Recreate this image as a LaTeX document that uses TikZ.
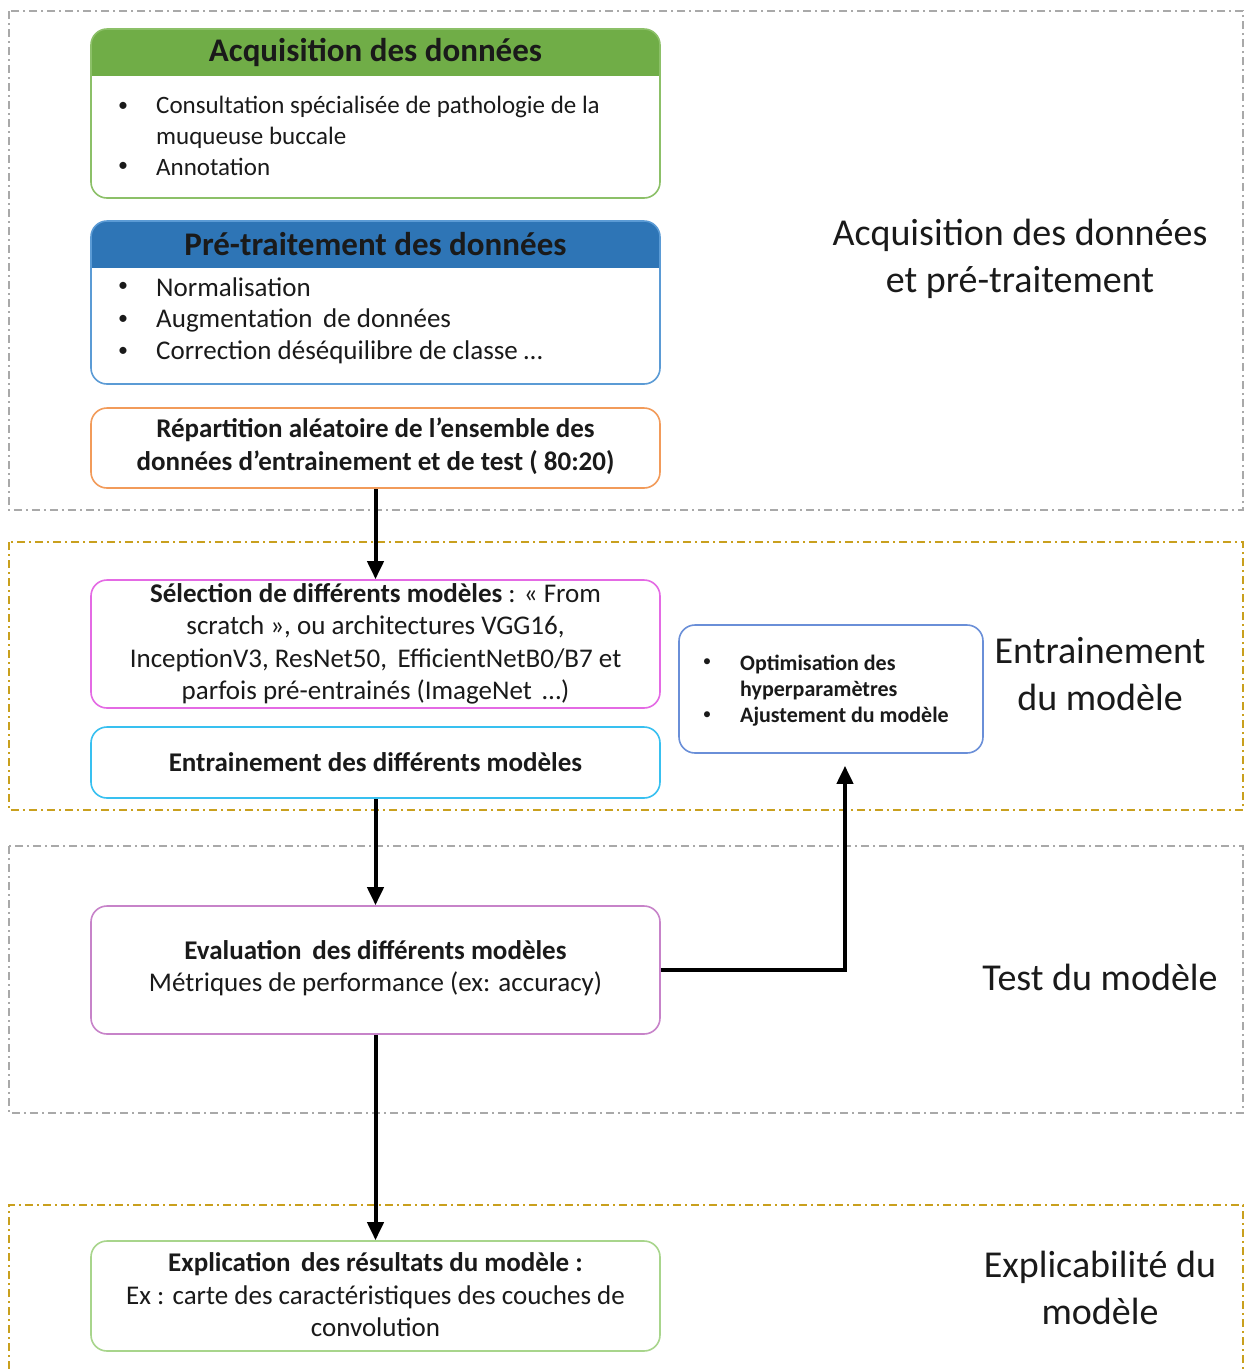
\documentclass[tikz,border=0pt]{standalone}
\usepackage{fontspec}
\setmainfont{Carlito}
\usetikzlibrary{arrows.meta}
\definecolor{framegray}{HTML}{A9A9A9}
\definecolor{framegold}{HTML}{C9A01E}
\definecolor{acqgreen}{HTML}{70AD47}
\definecolor{acqborder}{HTML}{8CC068}
\definecolor{prehead}{HTML}{2E75B6}
\definecolor{preborder}{HTML}{5B9BD5}
\definecolor{reporange}{HTML}{F29B5A}
\definecolor{selmag}{HTML}{E46AE4}
\definecolor{entcyan}{HTML}{38C0F0}
\definecolor{optblue}{HTML}{6A8FD8}
\definecolor{evalpurple}{HTML}{C783C9}
\definecolor{explgreen}{HTML}{A8D58C}
\definecolor{txt}{HTML}{1A1A1A}
\tikzset{
  frame/.style={line width=1.2pt, dash pattern=on 8pt off 4pt on 2pt off 4pt},
  boxshape/.style={rounded corners=16pt, line width=1.6pt, minimum width=569pt, inner sep=0pt},
  flowarrow/.style={line width=4pt, -{Triangle[length=18pt,width=16pt]}},
  hdr/.style={font=\fontsize{33}{36}\selectfont\bfseries, text=txt, inner sep=0pt},
  body/.style={font=\fontsize{27}{33}\selectfont, text=txt, inner sep=0pt, anchor=west},
  bul/.style={font=\fontsize{20}{22}\selectfont, text=txt, inner sep=0pt},
  ctext/.style={font=\fontsize{27}{32.5}\selectfont, text=txt, inner sep=0pt, align=center},
  side/.style={font=\fontsize{38}{46.5}\selectfont, text=txt, inner sep=0pt, align=center},
  opttext/.style={font=\fontsize{22}{26.5}\selectfont\bfseries, text=txt, inner sep=0pt, anchor=west},
}
\begin{document}
\begin{tikzpicture}[x=1pt,y=-1pt]
\useasboundingbox (0,0) rectangle (1249,1369);
\fill[white] (0,0) rectangle (1249,1369);
% frames
\draw[frame, framegray] (9,11) rectangle (1243,510);
\draw[frame, framegold] (9,542) rectangle (1243,810);
\draw[frame, framegray] (9,846) rectangle (1243,1113);
\draw[frame, framegold] (9,1369) -- (9,1205) -- (1243,1205) -- (1243,1369);

% Acquisition box
\begin{scope}
\clip[rounded corners=16pt] (91,29) rectangle (660,198);
\fill[acqgreen] (91,29) rectangle (660,76);
\end{scope}
\node[boxshape, draw=acqborder, minimum height=169pt] (acq) at (375.5,113.5) {};
\node[hdr] (acqh) at (375.5,52) {Acquisition des données};
\node[bul] (acqb1) at (123,107) {•};
\node[body, font=\fontsize{25}{30}\selectfont] (acqt1) at (156,107) {Consultation spécialisée de pathologie de la};
\node[body, font=\fontsize{25}{30}\selectfont] (acqt1b) at (156,138) {muqueuse buccale};
\node[bul] (acqb2) at (123,167) {•};
\node[body, font=\fontsize{25}{30}\selectfont] (acqt2) at (156,167) {Annotation};

% Pre-traitement box
\begin{scope}
\clip[rounded corners=16pt] (91,221) rectangle (660,384);
\fill[prehead] (91,221) rectangle (660,268);
\end{scope}
\node[boxshape, draw=preborder, minimum height=163pt] (pre) at (375.5,302.5) {};
\node[hdr] (preh) at (375.5,244) {Pré-traitement des données};
\node[bul] (preb1) at (123,287) {•};
\node[body] (pret1) at (156,287) {Normalisation};
\node[bul] (preb2) at (123,320) {•};
\node[body] (pret2) at (156,320) {Augmentation\, de données};
\node[bul] (preb3) at (123,352) {•};
\node[body] (pret3) at (156,352) {Correction déséquilibre de classe …};

% Repartition box
\node[boxshape, draw=reporange, minimum height=80pt] (rep) at (375.5,448) {};
\node[ctext, font=\fontsize{27}{32.5}\selectfont\bfseries] (rept) at (375.5,446) {Répartition aléatoire de l’ensemble des\\données d’entrainement et de test ( 80:20)};

% Selection box
\node[boxshape, draw=selmag, minimum height=128pt] (sel) at (375.5,644) {};
\node[ctext] (selt) at (375.5,644) {\textbf{Sélection de différents modèles} : « From\\scratch », ou architectures VGG16,\\InceptionV3, ResNet50,\, EfficientNetB0/B7 et\\parfois pré-entrainés (ImageNet \,…)};

% Entrainement box
\node[boxshape, draw=entcyan, minimum height=71pt] (ent) at (375.5,762.5) {};
\node[ctext, font=\fontsize{27}{32.5}\selectfont\bfseries] (entt) at (375.5,762) {Entrainement des différents modèles};

% Optimisation box
\node[boxshape, draw=optblue, minimum width=304pt, minimum height=128pt] (opt) at (831,689) {};
\node[bul, font=\fontsize{17}{18}\selectfont] (optb1) at (707,663) {•};
\node[opttext] (optt1) at (740,664) {Optimisation des};
\node[opttext] (optt1b) at (740,690) {hyperparamètres};
\node[bul, font=\fontsize{17}{18}\selectfont] (optb2) at (707,716) {•};
\node[opttext] (optt2) at (740,717) {Ajustement du modèle};

% Evaluation box
\node[boxshape, draw=evalpurple, minimum height=128pt] (eval) at (375.5,970) {};
\node[ctext] (evalt) at (375.5,968) {\textbf{Evaluation\, des différents modèles}\\Métriques de performance (ex: accuracy)};

% Explication box
\node[boxshape, draw=explgreen, minimum height=110pt] (expl) at (375.5,1296) {};
\node[ctext] (explt) at (375.5,1295) {\textbf{Explication\, des résultats du modèle :}\\Ex : carte des caractéristiques des couches de\\convolution};

% side labels
\node[side] (lab1) at (1020,259) {Acquisition des données\\et pré-traitement};
\node[side] (lab2) at (1100,674) {Entrainement\\du modèle};
\node[side] (lab3) at (1100,977) {Test du modèle};
\node[side] (lab4) at (1100,1288) {Explicabilité du\\modèle};

% arrows
\draw[flowarrow] (rep.south) -- (sel.north);
\draw[flowarrow] (ent.south) -- (eval.north);
\draw[flowarrow] (eval.south) -- (expl.north);
\draw[flowarrow] (eval.east) -| ([xshift=14pt,yshift=-12pt]opt.south);
\end{tikzpicture}
\end{document}
